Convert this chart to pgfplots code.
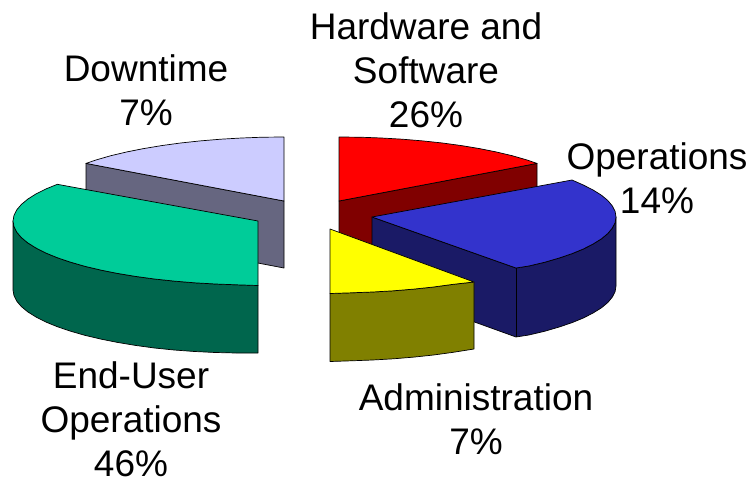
\documentclass[border=0pt]{standalone}
\usepackage{pgfplots}
\pgfplotsset{compat=1.18}
\usepackage{fontspec}
\setmainfont{Liberation Sans}
\definecolor{dtT}{HTML}{CCCCFF}\definecolor{dtS}{HTML}{666680}
\definecolor{grT}{HTML}{00CC99}\definecolor{grS}{HTML}{00664D}
\definecolor{rdT}{HTML}{FF0000}\definecolor{rdS}{HTML}{800000}
\definecolor{blT}{HTML}{3333CC}\definecolor{blS}{HTML}{1A1A66}
\definecolor{ylT}{HTML}{FFFF00}\definecolor{ylS}{HTML}{808000}
\tikzset{lab/.style={font=\fontsize{37}{44}\selectfont,align=center,text=black,inner sep=0pt}}
\begin{document}
\begin{tikzpicture}
\begin{axis}[width=751pt,height=480pt,scale only axis,hide axis,clip=false,
  xmin=0,xmax=751,ymin=0,ymax=480,y dir=reverse,
  every axis plot/.append style={draw=black,line width=0.7pt,line join=round,mark=none}]
\path[use as bounding box] (axis cs:0,0) rectangle (axis cs:751,480);
% Downtime
\addplot[fill=dtS] coordinates {(86,163.4)(284,201)(284,268)(200,252)(86,230)} -- cycle;
\addplot[fill=dtT] coordinates {(284,137)(284,201)(86,163.4)(96.3,159.9)(110.8,155.7)(126.5,152)(143.5,148.6)(161.5,145.6)(180.5,143)(200.2,140.9)(220.6,139.2)(241.5,138)(262.6,137.2)} -- cycle;
% End-User Operations
\addplot[fill=grS] coordinates {(13,221)(14,226.6)(16.7,232.1)(21.4,237.6)(27.8,242.9)(36,248)(45.8,253)(57.3,257.7)(70.3,262.1)(84.8,266.3)(100.5,270)(117.5,273.4)(135.5,276.4)(154.5,279)(174.2,281.1)(194.6,282.8)(215.5,284)(236.6,284.8)(258,285.5)
 (258,353)(236.6,353)(215.5,352.5)(194.6,351.5)(174.2,350)(154.5,348)(135.5,345.4)(117.5,342.4)(100.5,339)(84.8,335.3)(70.3,331.1)(57.3,326.7)(45.8,322)(36,317)(27.8,311.9)(21.4,306.6)(16.7,301.1)(14,295.6)(13,290)} -- cycle;
\addplot[fill=grT] coordinates {(57.3,184.3)(258,221)(258,285.5)(236.6,284.8)(215.5,284)(194.6,282.8)(174.2,281.1)(154.5,279)(135.5,276.4)(117.5,273.4)(100.5,270)(84.8,266.3)(70.3,262.1)(57.3,257.7)(45.8,253)(36,248)(27.8,242.9)(21.4,237.6)(16.7,232.1)(14,226.6)(13,221)(14,215.4)(16.7,209.9)(21.4,204.4)(27.8,199.1)(36,193.9)(45.8,189)} -- cycle;
% Hardware and Software
\addplot[fill=rdS] coordinates {(339,201)(537,163.4)(537,230)(339,268)} -- cycle;
\addplot[fill=rdT] coordinates {(339,137)(360.4,137.2)(381.5,138)(402.4,139.2)(422.8,140.9)(442.5,143)(461.5,145.6)(479.5,148.6)(496.5,152)(512.2,155.7)(526.7,159.9)(537,163.4)(339,201)} -- cycle;
% Operations
\addplot[fill=blS] coordinates {(372,217)(516,268)(528.8,266)(544.5,262.3)(558.9,258.1)(571.9,253.7)(583.3,249)(593.1,244)(601.3,238.9)(607.7,233.6)(612.3,228.1)(615.1,222.6)(616,217)
 (616,286)(615.1,291.6)(612.3,297.1)(607.7,302.6)(601.3,307.9)(593.1,313)(583.3,318)(571.9,322.7)(558.9,327.1)(544.5,331.3)(528.8,335)(516,337)(372,285)} -- cycle;
\addplot[draw=black] coordinates {(516,268)(516,337)};
\addplot[fill=blT] coordinates {(372,217)(572,180)(583.3,185)(593.1,190)(601.3,195.1)(607.7,200.4)(612.3,205.9)(615.1,211.4)(616,217)(615.1,222.6)(612.3,228.1)(607.7,233.6)(601.3,238.9)(593.1,244)(583.3,249)(571.9,253.7)(558.9,258.1)(544.5,262.3)(528.8,266)(516,268)} -- cycle;
% Administration
\addplot[fill=ylS] coordinates {(330,293.5)(351.4,292.8)(372.5,292)(393.4,290.8)(413.8,289.1)(433.5,287)(452.5,284.4)(474,282)(474,349)(452.5,352.4)(433.5,355)(413.8,357.1)(393.4,358.8)(372.5,360)(351.4,360.8)(330,361.5)} -- cycle;
\addplot[fill=ylT] coordinates {(330,229)(474,282)(452.5,284.4)(433.5,287)(413.8,289.1)(393.4,290.8)(372.5,292)(351.4,292.8)(330,293.5)} -- cycle;
\node[lab] at (axis cs:426,70.5) {Hardware and\\Software\\26\%};
\node[lab] at (axis cs:146,90.5) {Downtime\\7\%};
\node[lab] at (axis cs:657,178.5) {Operations\\14\%};
\node[lab] at (axis cs:476,419.5) {Administration\\7\%};
\node[lab] at (axis cs:131,419.5) {End-User\\Operations\\46\%};
\end{axis}
\end{tikzpicture}
\end{document}
